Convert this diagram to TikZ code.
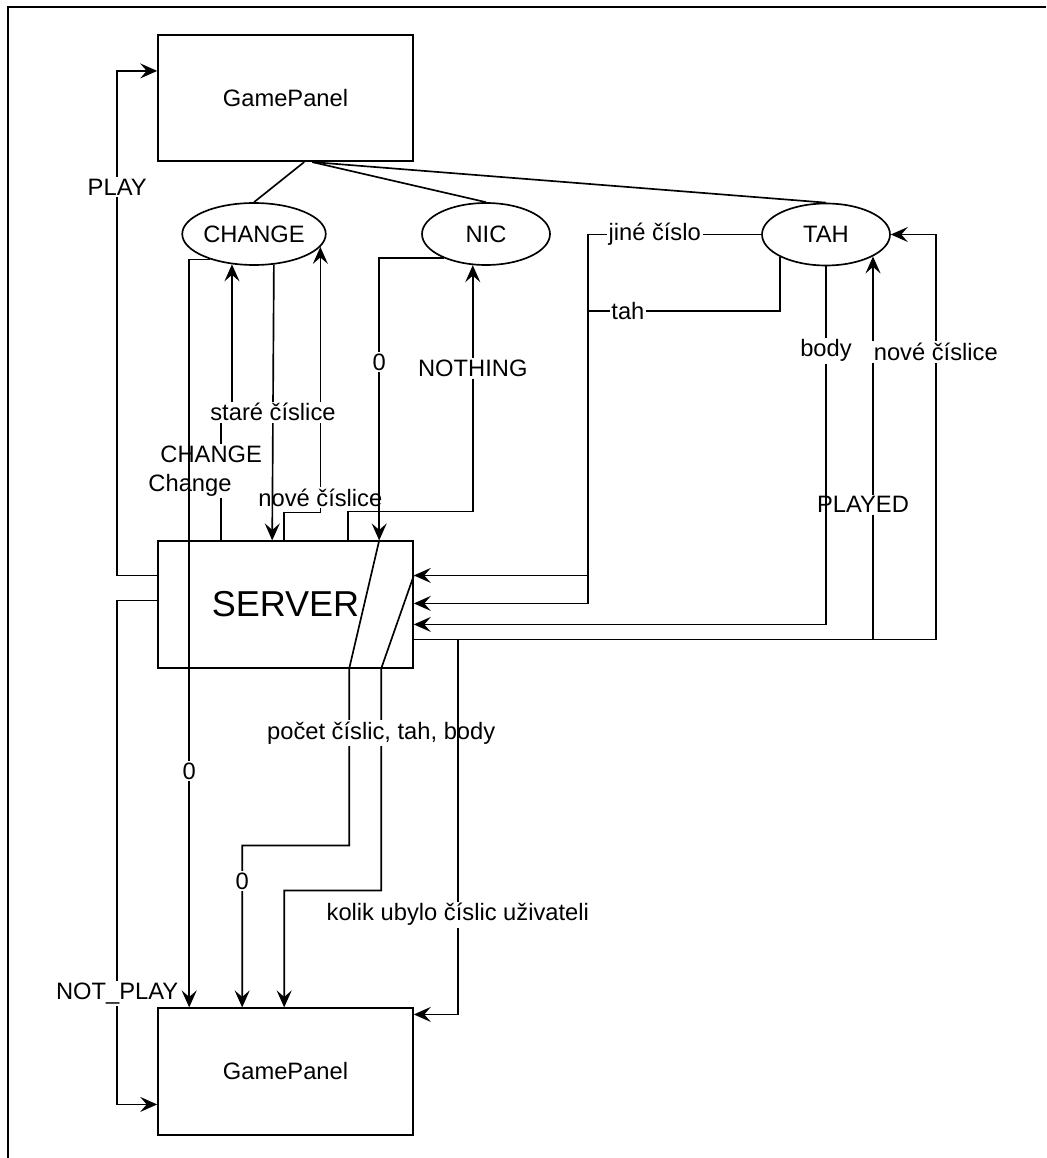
\documentclass[tikz,border=0pt]{standalone}
\usepackage{fontspec}
\setmainfont{Liberation Sans}
\usetikzlibrary{arrows.meta,calc,shapes.geometric}

\begin{document}
\begin{tikzpicture}[
x=0.02cm,y=-0.02cm,line width=0.95pt,
panel/.style={draw,minimum width=5.1cm,minimum height=2.53cm,font=\fontsize{13.5}{16.5}\selectfont},
stav/.style={draw,ellipse,minimum width=2.56cm,minimum height=1.24cm,inner sep=0pt,font=\fontsize{13.5}{16.5}\selectfont},
arr/.style={-{Stealth[length=3.4mm,width=3mm,inset=1.3mm]}},
lbl/.style={fill=white,inner sep=1pt,font=\fontsize{13.5}{16.5}\selectfont}
]
\useasboundingbox (0,0) rectangle (1046,1158);
\draw[line width=1pt] (8,1158) -- (8,7) -- (1046,7);

\node[panel] (gp) at (285.5,98) {GamePanel};
\node[panel,font=\fontsize{20.5}{24}\selectfont] (srv) at (285.5,604.5) {SERVER};
\node[panel] (bot) at (285.5,1071.5) {GamePanel};
\node[stav] (chg) at (254,234) {CHANGE};
\node[stav] (nic) at (486,234) {NIC};
\node[stav] (tah) at (826,234.5) {TAH};

% porty
\coordinate (gl) at ($(gp.north west)+(0,37)$);
\coordinate (gb1) at ($(gp.south west)+(147,0)$);
\coordinate (gb2) at ($(gp.south west)+(155,0)$);
\coordinate (sl1) at ($(srv.north west)+(0,35)$);
\coordinate (sl2) at ($(srv.north west)+(0,60)$);
\coordinate (sr1) at ($(srv.north east)+(0,35)$);
\coordinate (sr2) at ($(srv.north east)+(0,63)$);
\coordinate (sr3) at ($(srv.north east)+(0,84)$);
\coordinate (sr4) at ($(srv.north east)+(0,99)$);
\coordinate (st1) at ($(srv.north west)+(64,0)$);
\coordinate (st2) at ($(srv.north west)+(115,0)$);
\coordinate (st3) at ($(srv.north west)+(127,0)$);
\coordinate (st4) at ($(srv.north west)+(191,0)$);
\coordinate (st5) at ($(srv.north west)+(222,0)$);
\coordinate (sb1) at ($(srv.south west)+(192,0)$);
\coordinate (sb2) at ($(srv.south west)+(224,0)$);
\coordinate (bt1) at ($(bot.north west)+(32,0)$);
\coordinate (bt2) at ($(bot.north west)+(85,0)$);
\coordinate (bt3) at ($(bot.north west)+(127,0)$);
\coordinate (bl) at ($(bot.north west)+(0,97)$);
\coordinate (br) at ($(bot.north east)+(0,7)$);

\draw (gb1) -- (chg.north);
\draw (gb2) -- (nic.north);
\draw (gb2) -- (tah.north);

\draw[arr] (sl1) -- ++(-40,0) |- node[lbl,pos=0.385] {PLAY} (gl);
\draw[arr] (sl2) -- ++(-40,0) |- node[lbl,pos=0.39] {NOT\_PLAY} (bl);

% CHANGE
\draw[arr] (st1) -- node[lbl,pos=0.54,xshift=-0.32cm,align=left] {\hspace*{0.24cm}CHANGE\\Change} ++(0,-128) -| (chg.234);
\draw[arr] (st3) -- ++(0,-28) -| node[lbl,pos=0.5,yshift=0.3cm] {nové číslice} (chg.-11);
\draw[arr] (chg.-57) -- node[lbl,pos=0.535] {staré číslice} (st2);
\draw[arr] (chg.210) -| node[lbl,pos=0.842] {0} (bt1);

% NIC
\draw[arr] (st4) -- ++(0,-29) -| node[lbl,pos=0.79] {NOTHING} (nic.247);
\draw[arr] (nic.210) -| node[lbl,pos=0.684] {0} (st5);

% pres server
\draw[arr] (st5) -- (sb1) -- ++(0,177) -| node[lbl,pos=0.61] {0} (bt2);
\draw[arr] (sr1) -- (sb2) -- node[lbl,pos=0.29] {počet číslic, tah, body} ++(0,222) -| (bt3);

% TAH
\draw[arr] (tah.west) -- node[lbl,pos=0.615] {jiné číslo} (588,234.5) |- (sr1);
\draw[arr] (tah.206) |- node[lbl,pos=0.896] {tah} (588,311) |- (sr2);
\draw[arr] (sr4) -| node[lbl,pos=0.676,xshift=-0.2cm] {PLAYED} (tah.-25);
\draw[arr] (tah.south) |- node[lbl,pos=0.118] {body} (sr3);
\draw[arr] (sr4) -- ++(522,0) |- node[lbl,pos=0.355] {nové číslice} (tah.east);
\draw[arr] (sr4) -- ++(44,0) |- node[lbl,pos=0.367] {kolik ubylo číslic uživateli} (br);
\end{tikzpicture}
\end{document}
